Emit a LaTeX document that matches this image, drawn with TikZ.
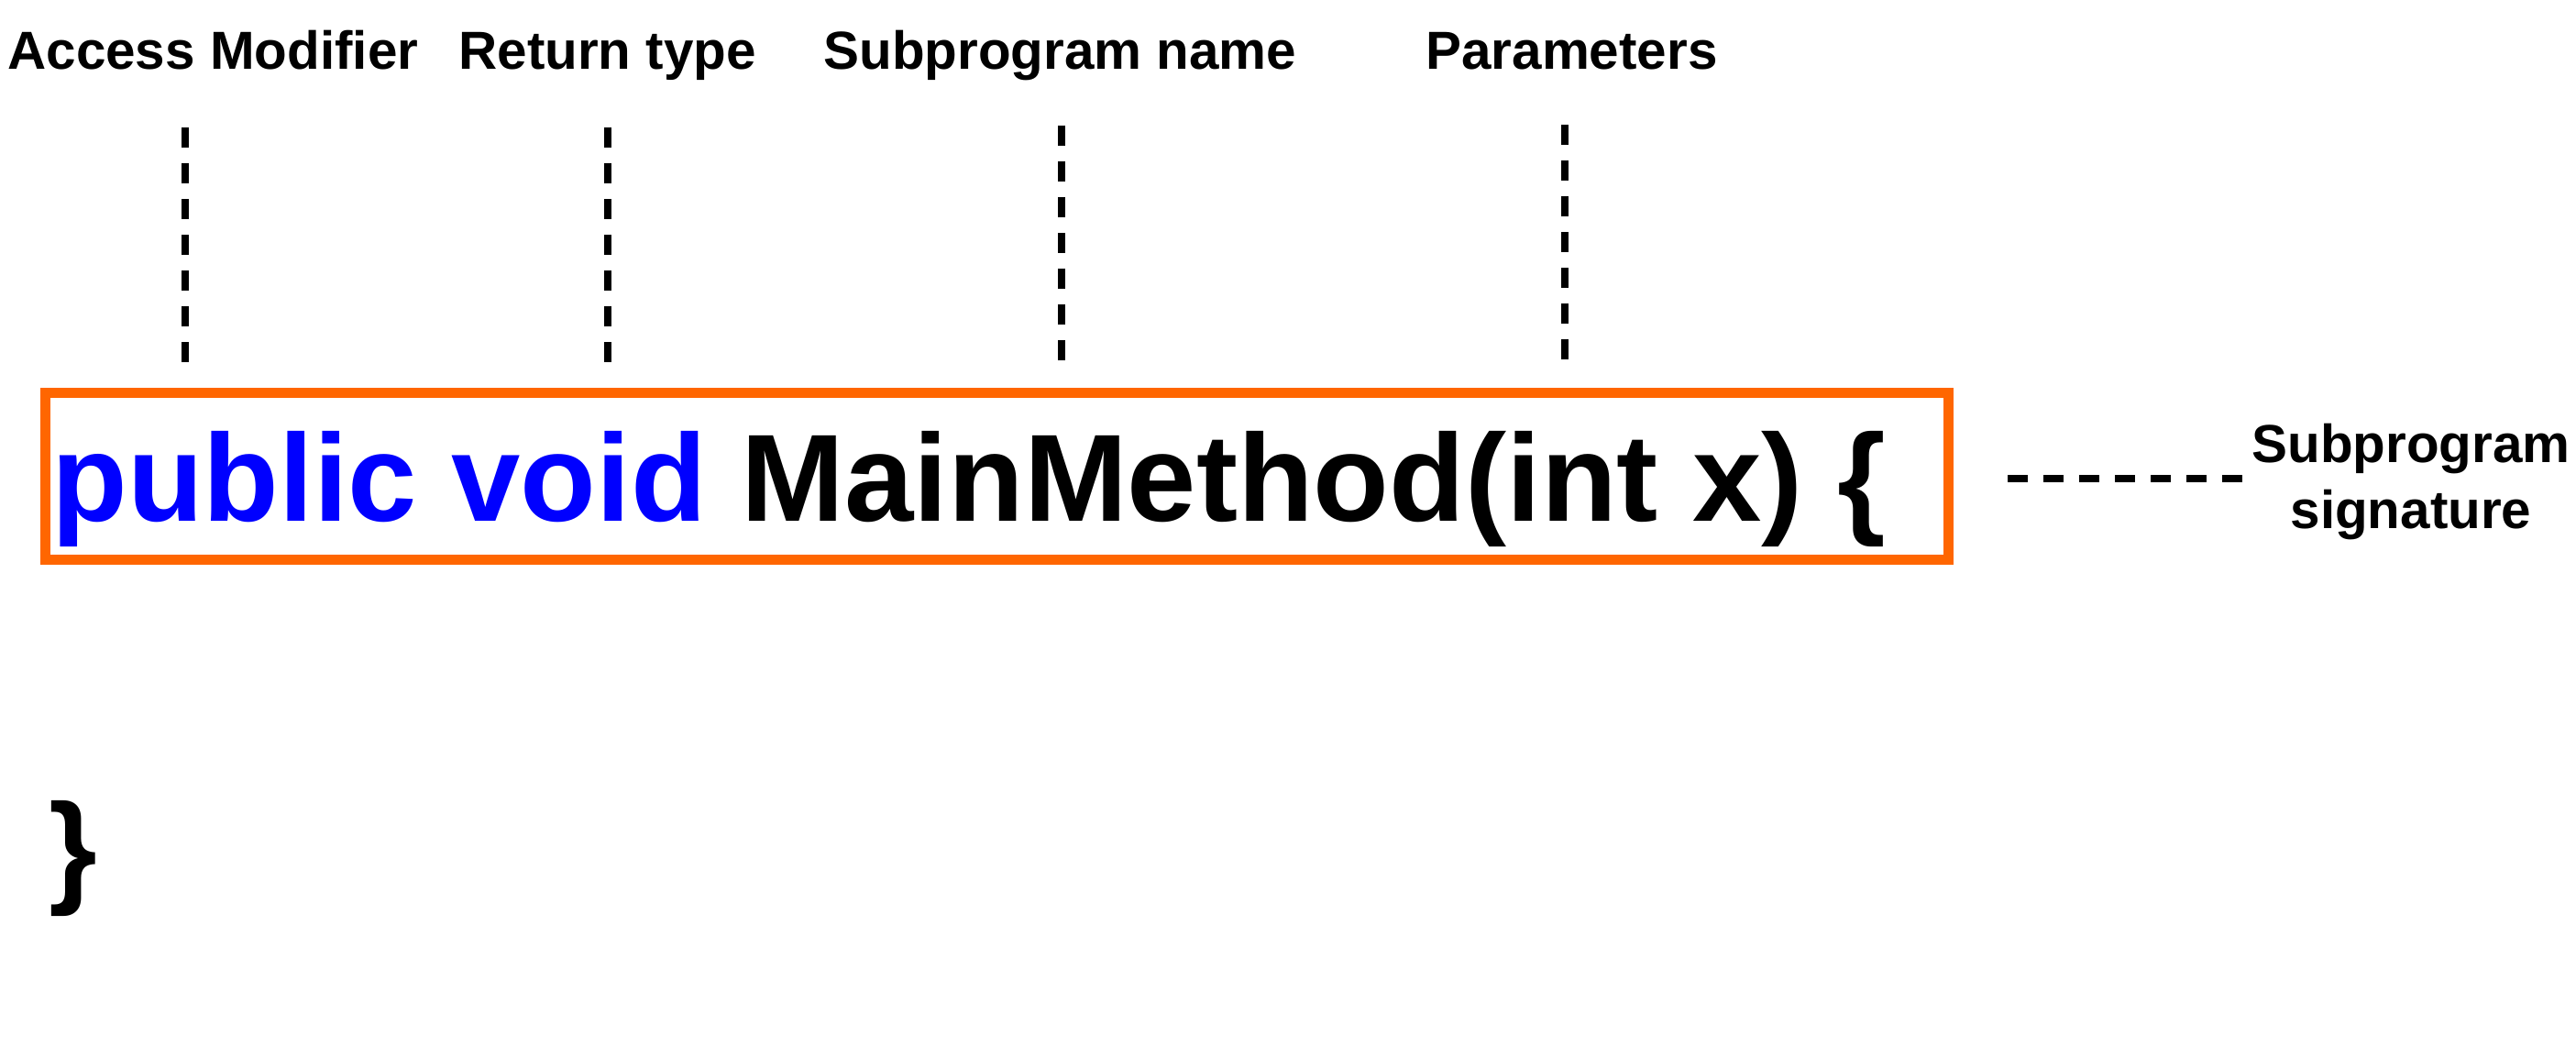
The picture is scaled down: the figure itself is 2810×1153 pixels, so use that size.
\documentclass[tikz,border=0pt]{standalone}
\usepackage{fontspec}
\setmainfont{Liberation Sans}
\definecolor{sigorange}{RGB}{255,102,0}
\definecolor{kwblue}{RGB}{0,0,255}
\begin{document}
\begin{tikzpicture}[x=0.5pt,y=-0.5pt,
  lab/.style={inner sep=0pt, anchor=base west, font=\fontsize{29.2}{36}\selectfont\bfseries},
  codetext/.style={inner sep=0pt, anchor=base west, font=\fontsize{67.7}{80}\selectfont\bfseries},
  dashline/.style={line width=3.75pt, dash pattern=on 11pt off 8.5pt},
  sigbox/.style={draw=sigorange, line width=5.5pt, inner sep=0pt, outer sep=0pt, minimum width=1038pt, minimum height=91pt, anchor=north west}]
\useasboundingbox (0,0) rectangle (2810,1153);
% labels
\node[lab] (am) at (8,75) {Access Modifier};
\node[lab] (rt) at (500,75) {Return type};
\node[lab] (sn) at (898,75) {Subprogram name};
\node[lab] (pa) at (1555,75) {Parameters};
% box and code
\node[sigbox] (box) at (49,428) {};
\node[codetext] (sig) at (56,568) {\textcolor{kwblue}{public void} MainMethod(int x) \{};
\node[codetext] (close) at (53,971) {\}};
% signature label
\node[lab, anchor=base, align=center] (sl) at (2630,576) {Subprogram\\signature};
% dashed connectors
\coordinate (am1) at (202,139); \coordinate (am2) at (202,395);
\coordinate (rt1) at (663,139); \coordinate (rt2) at (663,395);
\coordinate (sn1) at (1158,137); \coordinate (sn2) at (1158,393);
\coordinate (pa1) at (1707,136); \coordinate (pa2) at (1707,392);
\coordinate (sg1) at (2190,522); \coordinate (sg2) at (2446,522);
\draw[dashline] (am1) -- (am2);
\draw[dashline] (rt1) -- (rt2);
\draw[dashline] (sn1) -- (sn2);
\draw[dashline] (pa1) -- (pa2);
\draw[dashline] (sg1) -- (sg2);
\end{tikzpicture}
\end{document}
